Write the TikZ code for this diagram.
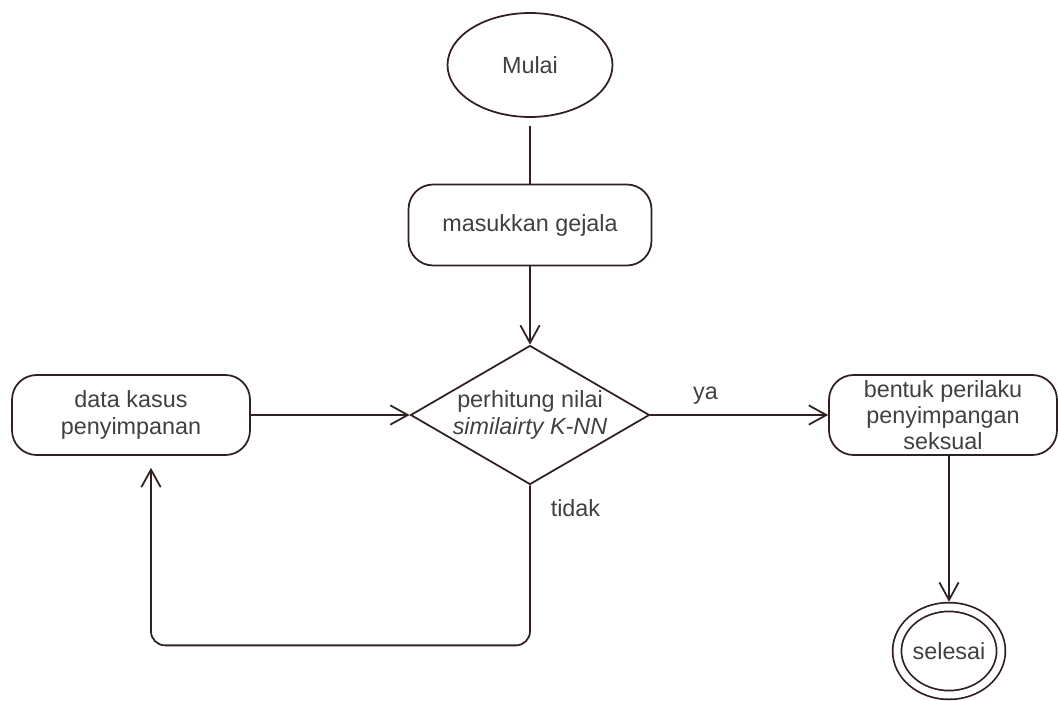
\documentclass[tikz,border=0pt]{standalone}
\usepackage{fontspec}
\setmainfont{Liberation Sans}
\usetikzlibrary{shapes.geometric, arrows.meta}

\definecolor{garis}{RGB}{48,32,32}
\definecolor{teks}{RGB}{64,64,64}

\tikzset{
  kotak/.style={draw=garis, line width=1pt, rounded corners=14pt, align=center,
    inner sep=0pt, text=teks},
  panah/.style={draw=garis, line width=1pt,
    -{Straight Barb[length=10pt, width=11pt, line width=1pt]}},
}

\begin{document}
\begin{tikzpicture}[x=0.02cm, y=-0.02cm, font=\fontsize{13.3pt}{15pt}\selectfont]
  \useasboundingbox (0,0) rectangle (1058,700);

  % Mulai di atas
  \node[ellipse, draw=garis, line width=1pt, text=teks, inner sep=0pt,
    minimum width=3.3cm, minimum height=2.08cm] (mulai) at (530,65) {Mulai};

  % Proses masukkan gejala
  \node[kotak, minimum width=4.86cm, minimum height=1.62cm] (gejala) at (530,225) {masukkan gejala};

  % Keputusan perhitungan K-NN
  \node[diamond, draw=garis, line width=1pt, text=teks, align=center, inner sep=0pt,
    aspect=1.72, minimum width=4.78cm, minimum height=2.78cm] (hitung) at (530,415)
    {perhitung nilai\\ \textit{similairty K-NN}};

  % Data kasus di kiri
  \node[kotak, minimum width=4.76cm, minimum height=1.6cm] (kasus) at (131,415)
    {data kasus\\ penyimpanan};

  % Hasil di kanan
  \node[kotak, minimum width=4.56cm, minimum height=1.6cm] (hasil) at (943,415)
    {bentuk perilaku\\ penyimpangan\\ seksual};

  % Selesai di bawah kanan
  \node[ellipse, draw=garis, line width=1pt, double, double distance=0.14cm, text=teks,
    inner sep=0pt, minimum width=2.08cm, minimum height=1.76cm] (selesai) at (949,651) {selesai};

  % Garis penghubung
  \draw[draw=garis, line width=1pt, shorten <=4.5pt] (mulai) -- (gejala);
  \draw[panah] (gejala) -- (hitung);
  \draw[panah] (kasus) -- (hitung);
  \draw[panah] (hitung) -- node[pos=0.31, above=2pt, text=teks] {ya} (hasil);
  \draw[panah, shorten >=2.5pt] (selesai |- hasil.south) -- (selesai);

  % Kembali ke data kasus jika tidak
  \draw[panah, rounded corners=8pt, shorten >=6.8pt] (hitung.south) -- ++(0,160)
    node[pos=0.14, right=8pt, text=teks] {tidak} -| ([xshift=0.4cm]kasus.south);
\end{tikzpicture}
\end{document}
